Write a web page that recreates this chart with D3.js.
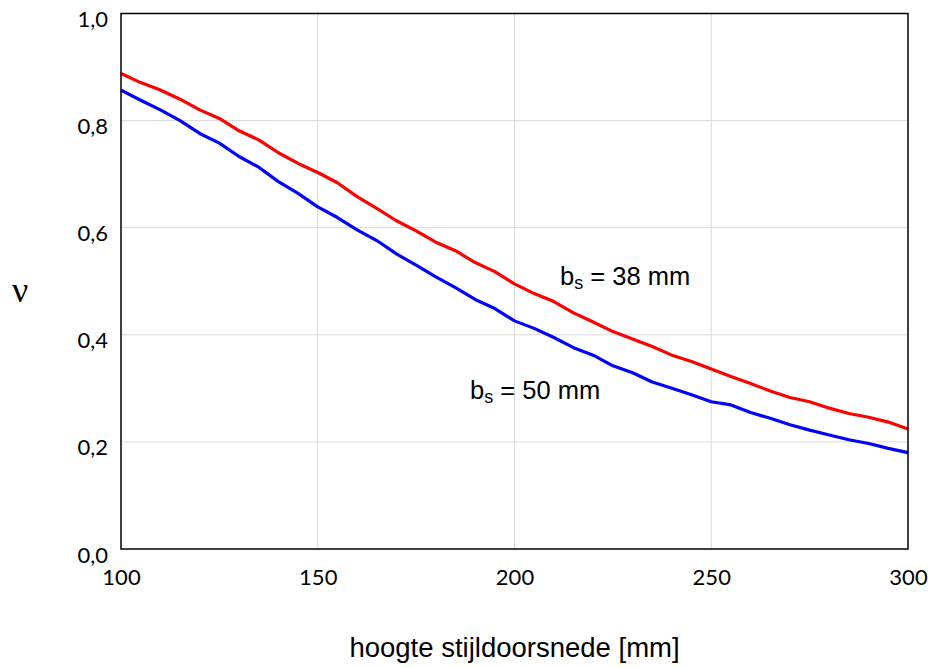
<!DOCTYPE html>
<html>
<head>
<meta charset="utf-8">
<script src="https://cdn.jsdelivr.net/npm/d3@7"></script>
<style>
  body { margin: 0; background: #fff; }
  .grid line { stroke: #d9d9d9; stroke-width: 1; }
</style>
</head>
<body>
<script>
// Set the dimensions of the canvas / graph
let margin = {top: 13.5, right: 24, bottom: 119, left: 121};
let width = 932 - margin.left - margin.right;
let height = 668 - margin.top - margin.bottom;

// hoogte stijldoorsnede [mm]
let hoogte = [100, 105, 110, 115, 120, 125, 130, 135, 140, 145,
              150, 155, 160, 165, 170, 175, 180, 185, 190, 195,
              200, 205, 210, 215, 220, 225, 230, 235, 240, 245,
              250, 255, 260, 265, 270, 275, 280, 285, 290, 295, 300];

// nu for b_s = 38 mm
let nu38 = [0.888, 0.871, 0.857, 0.840, 0.820, 0.804, 0.781, 0.764, 0.740, 0.720,
            0.703, 0.684, 0.658, 0.636, 0.613, 0.594, 0.573, 0.557, 0.535, 0.518,
            0.495, 0.477, 0.462, 0.441, 0.424, 0.406, 0.392, 0.378, 0.362, 0.350,
            0.336, 0.322, 0.309, 0.295, 0.283, 0.275, 0.263, 0.253, 0.246, 0.237, 0.224];

// nu for b_s = 50 mm
let nu50 = [0.857, 0.838, 0.820, 0.800, 0.776, 0.758, 0.733, 0.713, 0.686, 0.664,
            0.639, 0.619, 0.596, 0.576, 0.551, 0.530, 0.508, 0.488, 0.466, 0.449,
            0.426, 0.412, 0.395, 0.376, 0.362, 0.342, 0.329, 0.312, 0.300, 0.288,
            0.275, 0.269, 0.255, 0.244, 0.232, 0.222, 0.213, 0.204, 0.197, 0.188, 0.180];

let xTicks = [100, 150, 200, 250, 300];
let yTicks = [0, 0.2, 0.4, 0.6, 0.8, 1.0];

// Set the ranges
let x = d3.scaleLinear().domain([100, 300]).range([0, width]);
let y = d3.scaleLinear().domain([0, 1]).range([height, 0]);

let fmt = function(d) { return d3.format(".1f")(d).replace(".", ","); };

let svg = d3.select("body")
    .append("svg")
        .attr("width", 932)
        .attr("height", 668)
    .append("g")
        .attr("transform", "translate(" + margin.left + "," + margin.top + ")");

// gridlines
svg.append("g")
    .attr("class", "grid")
    .selectAll("line.h")
    .data(yTicks.slice(1, -1))
    .enter().append("line")
      .attr("x1", 0).attr("x2", width)
      .attr("y1", d => y(d)).attr("y2", d => y(d));

svg.append("g")
    .attr("class", "grid")
    .selectAll("line.v")
    .data(xTicks.slice(1, -1))
    .enter().append("line")
      .attr("y1", 0).attr("y2", height)
      .attr("x1", d => x(d)).attr("x2", d => x(d));

// Define the line
let valueline = d3.line()
    .x(function(d, i) { return x(hoogte[i]); })
    .y(function(d) { return y(d); });

svg.append("path")
    .attr("d", valueline(nu38))
    .attr("fill", "none")
    .attr("stroke", "#ff0000")
    .attr("stroke-width", 3.2)
    .attr("stroke-linejoin", "round");

svg.append("path")
    .attr("d", valueline(nu50))
    .attr("fill", "none")
    .attr("stroke", "#0000ff")
    .attr("stroke-width", 3.2)
    .attr("stroke-linejoin", "round");

// frame
svg.append("rect")
    .attr("x", 0).attr("y", 0)
    .attr("width", width).attr("height", height)
    .attr("fill", "none")
    .attr("stroke", "#000")
    .attr("stroke-width", 1.5);

// Define the axes
let xAxis = d3.axisBottom(x).tickValues(xTicks).tickSize(0).tickPadding(0).tickFormat(d3.format("d"));
let yAxis = d3.axisLeft(y).tickValues(yTicks).tickSize(0).tickPadding(0).tickFormat(fmt);

let gx = svg.append("g")
    .attr("transform", "translate(0," + height + ")")
    .call(xAxis);
gx.select(".domain").remove();
gx.selectAll(".tick text")
    .attr("y", 36)
    .attr("dy", 0)
    .style("font-family", "Lato, 'Open Sans', sans-serif")
    .style("font-size", "22px")
    .attr("fill", "#000");

let gy = svg.append("g").call(yAxis);
gy.select(".domain").remove();
gy.selectAll(".tick text")
    .attr("x", -13)
    .attr("dy", 13)
    .style("font-family", "Lato, 'Open Sans', sans-serif")
    .style("font-size", "22px")
    .attr("fill", "#000");

// x-axis title
svg.append("text")
    .attr("x", x(200))
    .attr("y", 657 - margin.top)
    .style("text-anchor", "middle")
    .style("font-family", "'Liberation Sans', Arial, sans-serif")
    .style("font-size", "27.5px")
    .text("hoogte stijldoorsnede [mm]");

// y-axis label (nu)
svg.append("text")
    .attr("x", 12 - margin.left)
    .attr("y", 302 - margin.top)
    .style("font-family", "'Liberation Serif', 'Times New Roman', serif")
    .style("font-size", "36px")
    .text("\u03bd");

// series labels
let labels = [
    {text: "38", at: 200, v: 0.495, dx: 45.5, dy: 1},
    {text: "50", at: 200, v: 0.426, dx: -44.5, dy: 78}
];
labels.forEach(function(l) {
    let t = svg.append("text")
        .attr("x", x(l.at) + l.dx)
        .attr("y", y(l.v) + l.dy)
        .style("font-family", "'Liberation Sans', Arial, sans-serif")
        .style("font-size", "25.5px");
    t.append("tspan").text("b");
    t.append("tspan").attr("dy", 4).style("font-size", "18px").text("s");
    t.append("tspan").attr("dy", -4).text(" = " + l.text + " mm");
});
</script>
</body>
</html>
